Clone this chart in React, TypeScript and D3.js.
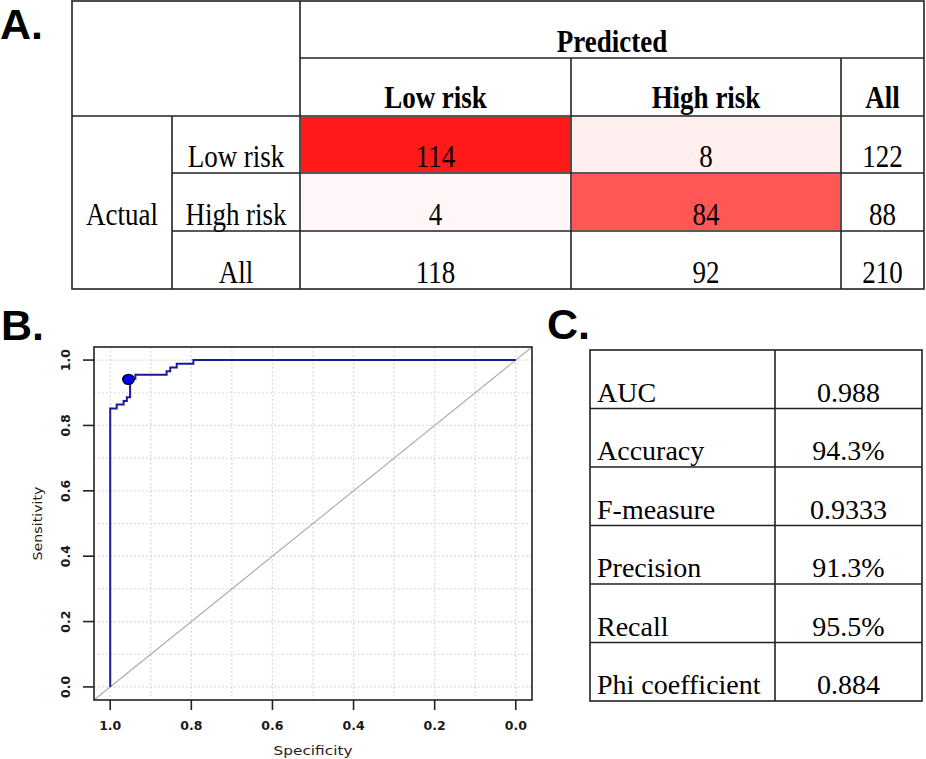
import React from 'react';
import * as d3 from 'd3';

// confusion matrix (rows = actual, cols = predicted)
const classLabels = ['Low risk', 'High risk', 'All'];
const lowRiskRow = [114, 8, 122];
const highRiskRow = [4, 84, 88];
const allRow = [118, 92, 210];

// metrics table
const metricNames = ['AUC', 'Accuracy', 'F-measure', 'Precision', 'Recall', 'Phi coefficient'];
const metricValues = ['0.988', '94.3%', '0.9333', '91.3%', '95.5%', '0.884'];

// ROC curve corners (step, vertical first)
const rocSpecificity = [1.0, 0.984, 0.967, 0.959, 0.951, 0.938, 0.861, 0.852, 0.836, 0.795, 0.0];
const rocSensitivity = [0.0, 0.852, 0.864, 0.875, 0.886, 0.943, 0.955, 0.966, 0.977, 0.989, 1.0];
const bestSpecificity = 0.955;
const bestSensitivity = 0.941;

const axisTicks = [1.0, 0.8, 0.6, 0.4, 0.2, 0.0];
const tickLabels = ['1.0', '0.8', '0.6', '0.4', '0.2', '0.0'];

const serif = '"Liberation Serif", "Times New Roman", serif';
const sans = '"Liberation Sans", Arial, sans-serif';
const rocFont = '"DejaVu Sans", Verdana, sans-serif';
const lineColor = '#222';

const ConfusionTable = () => {
  const colEdges = [72, 172, 300, 571, 841, 924];
  const rowEdges = [1, 58, 116, 173, 231, 289];
  const rows = [lowRiskRow, highRiskRow, allRow];
  const fill = d3.scaleLinear<string>().domain([0, d3.max([...lowRiskRow.slice(0, 2), ...highRiskRow.slice(0, 2)])!])
    .range(['#ffffff', '#ff1919']);
  const cx = (c: number) => (colEdges[c] + colEdges[c + 1]) / 2;
  const txt = (x: number, y: number, s: string | number, bold = false, key?: string) => (
    <text key={key} transform={`translate(${x},${y}) scale(1,1.17)`} textAnchor="middle"
      fontFamily={serif} fontSize={27} fontWeight={bold ? 'bold' : 'normal'} fill="#000">{s}</text>
  );
  return (
    <g>
      {[0, 1].map(r => [0, 1].map(c => (
        <rect key={`f${r}${c}`} x={colEdges[2 + c] + 1} y={rowEdges[2 + r] + 1}
          width={colEdges[3 + c] - colEdges[2 + c] - 2} height={rowEdges[3 + r] - rowEdges[2 + r] - 2}
          fill={fill(rows[r][c])} />
      )))}
      {/* grid */}
      <g stroke={lineColor} strokeWidth={1.6} fill="none">
        <rect x={colEdges[0]} y={rowEdges[0]} width={colEdges[5] - colEdges[0]} height={rowEdges[5] - rowEdges[0]} />
        <line x1={colEdges[2]} x2={colEdges[5]} y1={rowEdges[1]} y2={rowEdges[1]} />
        <line x1={colEdges[0]} x2={colEdges[5]} y1={rowEdges[2]} y2={rowEdges[2]} />
        <line x1={colEdges[1]} x2={colEdges[5]} y1={rowEdges[3]} y2={rowEdges[3]} />
        <line x1={colEdges[1]} x2={colEdges[5]} y1={rowEdges[4]} y2={rowEdges[4]} />
        <line x1={colEdges[1]} x2={colEdges[1]} y1={rowEdges[2]} y2={rowEdges[5]} />
        <line x1={colEdges[2]} x2={colEdges[2]} y1={rowEdges[0]} y2={rowEdges[5]} />
        <line x1={colEdges[3]} x2={colEdges[3]} y1={rowEdges[1]} y2={rowEdges[5]} />
        <line x1={colEdges[4]} x2={colEdges[4]} y1={rowEdges[1]} y2={rowEdges[5]} />
      </g>
      {txt((colEdges[2] + colEdges[5]) / 2, 52, 'Predicted', true)}
      {classLabels.map((l, i) => txt(cx(2 + i), 108, l, true, `h${i}`))}
      {classLabels.map((l, i) => txt(cx(1), rowEdges[3 + i] - 6, l, false, `r${i}`))}
      {txt(cx(0), rowEdges[4] - 6, 'Actual')}
      {rows.map((row, r) => row.map((v, c) => txt(cx(2 + c), rowEdges[3 + r] - 6, v, false, `v${r}${c}`)))}
    </g>
  );
};

const MetricsTable = () => {
  const colEdges = [590, 775, 922];
  const y = d3.scaleBand().domain(metricNames).range([350, 701]);
  return (
    <g>
      <g stroke={lineColor} strokeWidth={1.6} fill="none">
        <rect x={colEdges[0]} y={350} width={colEdges[2] - colEdges[0]} height={351} />
        <line x1={colEdges[1]} x2={colEdges[1]} y1={350} y2={701} />
        {metricNames.slice(1).map(m => (
          <line key={m} x1={colEdges[0]} x2={colEdges[2]} y1={y(m)} y2={y(m)} />
        ))}
      </g>
      {metricNames.map((m, i) => (
        <g key={m} fontFamily={serif} fontSize={28} fill="#000">
          <text x={597} y={y(m)! + y.bandwidth() - 7}>{m}</text>
          <text x={(colEdges[1] + colEdges[2]) / 2} y={y(m)! + y.bandwidth() - 7} textAnchor="middle">{metricValues[i]}</text>
        </g>
      ))}
    </g>
  );
};

const RocPlot = () => {
  const x = d3.scaleLinear().domain([1.04, -0.04]).range([94, 532]);
  const y = d3.scaleLinear().domain([-0.04, 1.04]).range([700, 347]);
  const grid = x.ticks(10);
  const pts = rocSpecificity.map((s, i) => [s, rocSensitivity[i]] as [number, number]);
  const line = d3.line<[number, number]>().x(d => x(d[0])).y(d => y(d[1])).curve(d3.curveStepBefore);
  const [x0, x1] = x.range();
  const [y0, y1] = y.range();
  return (
    <g>
      <g stroke="#cfcfcf" strokeWidth={1.2} strokeDasharray="1.5,2.5">
        {grid.map(t => <line key={`gx${t}`} x1={x(t)} x2={x(t)} y1={y1} y2={y0} />)}
        {grid.map(t => <line key={`gy${t}`} x1={x0} x2={x1} y1={y(t)} y2={y(t)} />)}
      </g>
      <line x1={x(1.04)} y1={y(-0.04)} x2={x(-0.04)} y2={y(1.04)} stroke="#aaaaaa" strokeWidth={1.1} />
      <path d={line(pts)!} fill="none" stroke="#1a1a96" strokeWidth={2} />
      <ellipse cx={x(bestSpecificity)} cy={y(bestSensitivity)} rx={5.8} ry={5} fill="#0000ff" stroke="#000" strokeWidth={1.3} />
      <rect x={x0} y={y1} width={x1 - x0} height={y0 - y1} fill="none" stroke={lineColor} strokeWidth={1.6} />
      <g stroke={lineColor} strokeWidth={1.6}>
        {axisTicks.map(t => <line key={`tx${t}`} x1={x(t)} x2={x(t)} y1={y0} y2={y0 + 10} />)}
        {axisTicks.map(t => <line key={`ty${t}`} x1={x0} x2={x0 - 11} y1={y(t)} y2={y(t)} />)}
      </g>
      <g fontFamily={rocFont} fontSize={12.5} fontWeight="bold" fill="#1a1a1a">
        {axisTicks.map((t, i) => (
          <text key={`lx${t}`} x={x(t)} y={730} textAnchor="middle">{tickLabels[i]}</text>
        ))}
        {axisTicks.map((t, i) => (
          <text key={`ly${t}`} transform={`translate(70,${y(t)}) rotate(-90)`} textAnchor="middle">{tickLabels[i]}</text>
        ))}
      </g>
      <g fontFamily={rocFont} fontSize={12.5} fill="#2a1a1a">
        <text x={(x0 + x1) / 2} y={755} textAnchor="middle" textLength={79} lengthAdjust="spacingAndGlyphs">Specificity</text>
        <text transform={`translate(42,${(y0 + y1) / 2}) rotate(-90)`} textAnchor="middle" textLength={74} lengthAdjust="spacingAndGlyphs">Sensitivity</text>
      </g>
    </g>
  );
};

const App = () => (
  <div style={{ position: 'absolute', left: 0, top: 0 }}>
    <svg width={926} height={759} style={{ display: 'block', background: '#fff' }}>
      <g fontFamily={sans} fontSize={43} fontWeight="bold" fill="#000">
        <text x={0} y={39}>A.</text>
        <text x={1} y={340}>B.</text>
        <text x={547} y={339}>C.</text>
      </g>
      <ConfusionTable />
      <RocPlot />
      <MetricsTable />
    </svg>
  </div>
);

export default App;
